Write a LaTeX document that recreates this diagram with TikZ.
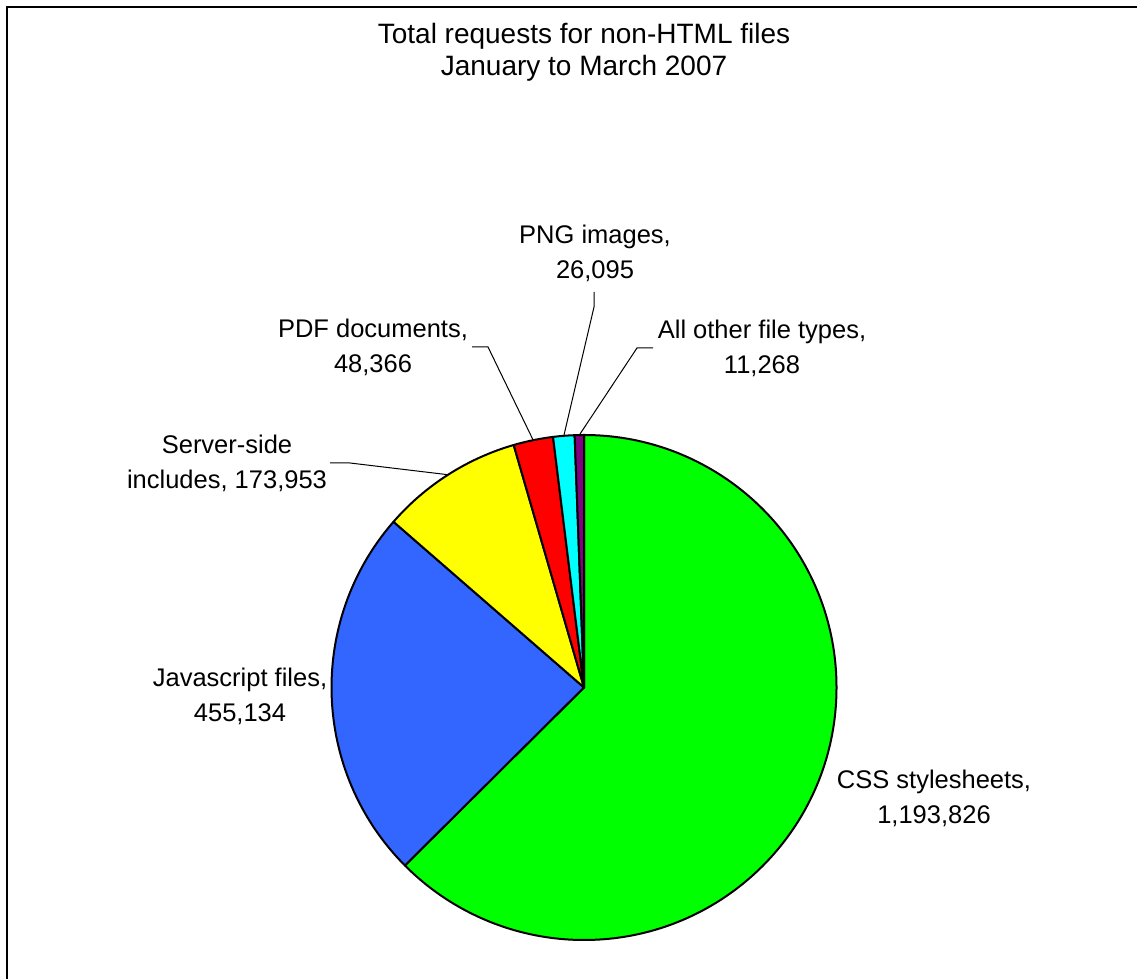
\documentclass[tikz,border=0pt]{standalone}
\usepackage{fontspec}
\setmainfont{Liberation Sans}
\usetikzlibrary{calc}
\definecolor{cssgreen}{HTML}{00FF00}
\definecolor{jsblue}{HTML}{3366FF}
\definecolor{ssiyellow}{HTML}{FFFF00}
\definecolor{pdfred}{HTML}{FF0000}
\definecolor{pngcyan}{HTML}{00FFFF}
\definecolor{otherpurple}{HTML}{800080}
\tikzset{
  slice/.style={draw=black, line width=2pt, line join=round},
  leader/.style={draw=black, line width=1pt},
  lbl/.style={anchor=north, inner sep=0pt, align=center, font=\fontsize{25.5}{34.5}\selectfont},
  ttl/.style={anchor=north, inner sep=0pt, align=center, font=\fontsize{28}{32}\selectfont},
  frame/.style={draw=black, line width=2pt}
}
\begin{document}
\begin{tikzpicture}[x=1pt,y=1pt]
\useasboundingbox (0,0) rectangle (1137,979);
% frame (only top and left edges visible)
\coordinate (fbl) at (7,-5);
\coordinate (ftl) at (7,972);
\coordinate (ftr) at (1145,972);
\draw[frame] (fbl) -- (ftl) -- (ftr);
% title
\node[ttl] (title) at (584,956) {Total requests for non-HTML files\\January to March 2007};
% pie
\def\R{252.5}
\coordinate (c) at (584,291.5);
\draw[slice, fill=cssgreen] (c) -- ++(90:\R) arc[start angle=90, end angle=-135.174, radius=\R] -- cycle;
\draw[slice, fill=jsblue] (c) -- ++(-135.174:\R) arc[start angle=-135.174, end angle=-221.020, radius=\R] -- cycle;
\draw[slice, fill=ssiyellow] (c) -- ++(138.980:\R) arc[start angle=138.980, end angle=106.170, radius=\R] -- cycle;
\draw[slice, fill=pdfred] (c) -- ++(106.170:\R) arc[start angle=106.170, end angle=97.047, radius=\R] -- cycle;
\draw[slice, fill=pngcyan] (c) -- ++(97.047:\R) arc[start angle=97.047, end angle=92.125, radius=\R] -- cycle;
\draw[slice, fill=otherpurple] (c) -- ++(92.125:\R) arc[start angle=92.125, end angle=90, radius=\R] -- cycle;
% edge points for leaders
\coordinate (ssiE) at ($(c)+(122.575:\R)$);
\coordinate (pdfE) at ($(c)+(101.609:\R)$);
\coordinate (pngE) at ($(c)+(94.586:\R)$);
\coordinate (othE) at ($(c)+(91.062:\R)$);
% labels
\node[lbl] (png) at (595,754) {PNG images,\\26,095};
\node[lbl] (pdf) at (373,660) {PDF documents,\\48,366};
\node[lbl] (oth) at (762,659) {All other file types,\\11,268};
\node[lbl] (ssi) at (227,544) {Server-side\\includes, 173,953};
\node[lbl] (js) at (240,311) {Javascript files,\\455,134};
\node[lbl] (css) at (934,209) {CSS stylesheets,\\1,193,826};
% leader lines
\coordinate (ssiA) at (330,516);
\coordinate (ssiB) at (350,516);
\draw[leader] (ssiA) -- (ssiB) -- (ssiE);
\coordinate (pdfA) at (472,632);
\coordinate (pdfB) at (488,632);
\draw[leader] (pdfA) -- (pdfB) -- (pdfE);
\coordinate (pngA) at (594,687);
\coordinate (pngB) at (594,672);
\draw[leader] (pngA) -- (pngB) -- (pngE);
\coordinate (othA) at (653,631);
\coordinate (othB) at (637,631);
\draw[leader] (othA) -- (othB) -- (othE);
\end{tikzpicture}
\end{document}
